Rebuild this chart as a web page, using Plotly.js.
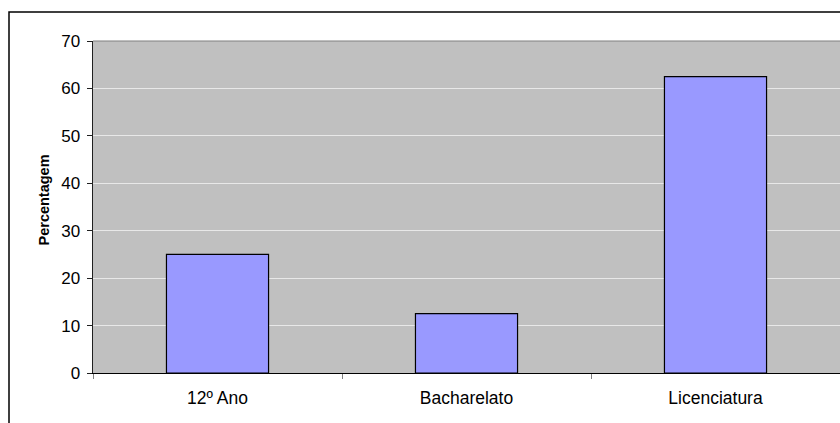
<!DOCTYPE html>
<html>
<head>
<meta charset="utf-8">
<script src="https://cdn.plot.ly/plotly-3.0.1.min.js"></script>
<style>
  html, body { margin: 0; padding: 0; background: #ffffff; }
  #chart { width: 840px; height: 423px; }
</style>
</head>
<body>
<div id="chart"></div>
<script>
const categories = ['12º Ano', 'Bacharelato', 'Licenciatura'];
const percentages = [25, 12.5, 62.5];
const yTickValues = [0, 10, 20, 30, 40, 50, 60, 70];
const yTitle = 'Percentagem';

const FONT = 'Arial, "Liberation Sans", sans-serif';

const trace = {
  type: 'bar',
  x: categories,
  y: percentages,
  marker: { color: '#9999FF', line: { color: '#000000', width: 1.2 } },
  hoverinfo: 'x+y'
};

const layout = {
  width: 840,
  height: 423,
  margin: { l: 93, r: 0, t: 41, b: 50 },
  paper_bgcolor: '#ffffff',
  plot_bgcolor: '#C0C0C0',
  bargap: 0.59,
  showlegend: false,
  font: { family: FONT, color: '#000000' },
  xaxis: {
    type: 'category',
    range: [-0.5, 2.5],
    showline: true,
    linecolor: '#000000',
    linewidth: 1.2,
    ticks: 'outside',
    tickson: 'boundaries',
    ticklen: 5,
    tickcolor: '#808080',
    tickfont: { size: 17.5, family: FONT },
    ticklabelstandoff: 9,
    showgrid: false,
    zeroline: false,
    fixedrange: true
  },
  yaxis: {
    range: [0, 70],
    tickvals: yTickValues,
    ticktext: yTickValues.map(String),
    showline: true,
    linecolor: '#202020',
    linewidth: 1.5,
    ticks: 'outside',
    ticklen: 5,
    tickcolor: '#202020',
    tickfont: { size: 17, family: FONT },
    ticklabelstandoff: 3,
    showgrid: true,
    gridcolor: '#E8E8E8',
    gridwidth: 1,
    zeroline: false,
    fixedrange: true
  },
  annotations: [
    {
      text: '<b>' + yTitle + '</b>',
      xref: 'paper', yref: 'paper',
      x: (43 - 93) / 747, y: (373 - 200.5) / 332,
      xanchor: 'center', yanchor: 'middle',
      textangle: -90,
      showarrow: false,
      font: { size: 14.5, family: FONT, color: '#000000' }
    }
  ],
  shapes: [
    {
      type: 'line', xref: 'paper', yref: 'paper',
      x0: 0, x1: 1, y0: 1, y1: 1,
      line: { color: '#808080', width: 1.2 }
    },
    {
      type: 'rect', xref: 'paper', yref: 'paper',
      x0: (9 - 93) / 747, x1: 1.05,
      y0: (373 - 440) / 332, y1: (373 - 12) / 332,
      line: { color: '#000000', width: 1.5 },
      fillcolor: 'rgba(0,0,0,0)',
      layer: 'above'
    }
  ]
};

Plotly.newPlot('chart', [trace], layout, { displayModeBar: false, staticPlot: true });
</script>
</body>
</html>
